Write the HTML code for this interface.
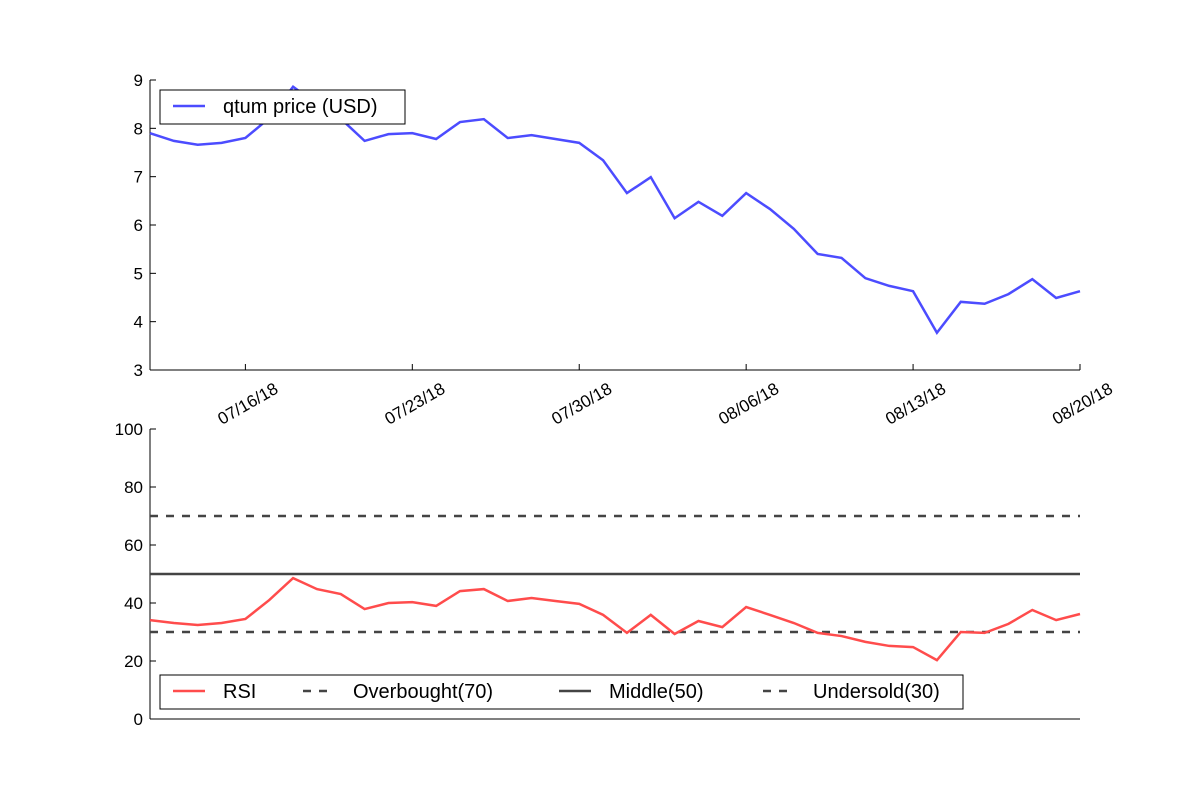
<!DOCTYPE html>
<html><head><meta charset="utf-8"><style>
body{margin:0;background:#fff}
svg text{font-family:"Liberation Sans",sans-serif;font-size:17px;fill:#000}
svg text.lg{font-size:20px}
</style></head><body>
<svg id="c" width="1200" height="800"></svg>
<script>
const dates=["07/16/18","07/23/18","07/30/18","08/06/18","08/13/18","08/20/18"];
const dateIdx=[4,11,18,25,32,39];
const price=[7.90,7.74,7.66,7.70,7.80,8.21,8.86,8.5,8.2,7.74,7.88,7.90,7.78,8.13,8.19,7.80,7.86,7.78,7.70,7.34,6.66,6.99,6.14,6.48,6.19,6.66,6.33,5.92,5.40,5.32,4.90,4.74,4.63,3.77,4.41,4.37,4.57,4.88,4.49,4.63];
const rsi=[34.1,33.1,32.4,33.1,34.5,41,48.6,44.8,43.1,37.9,40,40.3,39,44.1,44.8,40.7,41.7,40.7,39.7,35.9,29.7,35.9,29.3,33.8,31.7,38.6,35.9,33.1,29.7,28.6,26.6,25.2,24.8,20.3,30,29.7,32.8,37.6,34.1,36.2];
const priceTicks=[3,4,5,6,7,8,9];
const rsiTicks=[0,20,40,60,80,100];
const levels=[70,50,30];
const NS="http://www.w3.org/2000/svg",svg=document.getElementById('c');
function el(t,a,txt){const e=document.createElementNS(NS,t);for(const k in a)e.setAttribute(k,a[k]);if(txt!=null)e.textContent=txt;svg.appendChild(e);return e;}
const X0=150,X1=1080,N=price.length;
const x=i=>X0+(X1-X0)*i/(N-1);
const yP=v=>370-(v-3)*(290/6);
const yR=v=>719-v*2.9;
let e=el('line',{x1:X0,y1:80,x2:X0,y2:370,stroke:'#000'});


e=el('line',{x1:X0,y1:370,x2:X1,y2:370,stroke:'#000'});


priceTicks.forEach(v=>{el('line',{x1:X0,y1:yP(v),x2:X0+6,y2:yP(v),stroke:'#000'});
e=el('text',{x:X0-7,y:yP(v)+6,'text-anchor':'end'},v);

});
dates.forEach((d,k)=>{const xx=x(dateIdx[k]);el('line',{x1:xx,y1:370,x2:xx,y2:364,stroke:'#000'});
e=el('text',{x:xx+34,y:392,'text-anchor':'end',transform:`rotate(-30 ${xx+34} 392)`},d);

});
e=el('polyline',{points:price.map((v,i)=>x(i)+','+yP(v)).join(' '),fill:'none',stroke:'#4c4cff','stroke-width':2.5});


e=el('rect',{x:160,y:90,width:245,height:34,fill:'#fff',stroke:'#000'});


el('line',{x1:173,y1:106,x2:205,y2:106,stroke:'#4c4cff','stroke-width':2.5});
el('text',{x:223,y:113,'class':'lg'},'qtum price (USD)');
e=el('line',{x1:X0,y1:429,x2:X0,y2:719,stroke:'#000'});


e=el('line',{x1:X0,y1:719,x2:X1,y2:719,stroke:'#000'});


rsiTicks.forEach(v=>{el('line',{x1:X0,y1:yR(v),x2:X0+6,y2:yR(v),stroke:'#000'});
e=el('text',{x:X0-7,y:yR(v)+6,'text-anchor':'end'},v);

});
levels.forEach(l=>{e=el('line',{x1:X0,y1:yR(l),x2:X1,y2:yR(l),stroke:'#444','stroke-width':2.5,'stroke-dasharray':l==50?'none':'8,8'});

});
e=el('polyline',{points:rsi.map((v,i)=>x(i)+','+yR(v)).join(' '),fill:'none',stroke:'#ff4c4c','stroke-width':2.5});


e=el('rect',{x:160,y:675,width:803,height:34,fill:'#fff',stroke:'#000'});


[[173,'#ff4c4c','none','RSI',223],[303,'#444','8,8','Overbought(70)',353],[559,'#444','none','Middle(50)',609],[763,'#444','8,8','Undersold(30)',813]].forEach(a=>{
el('line',{x1:a[0],y1:691,x2:a[0]+32,y2:691,stroke:a[1],'stroke-width':2.5,'stroke-dasharray':a[2]});
e=el('text',{x:a[4],y:698,'class':'lg'},a[3]);

});
</script>
</body></html>
